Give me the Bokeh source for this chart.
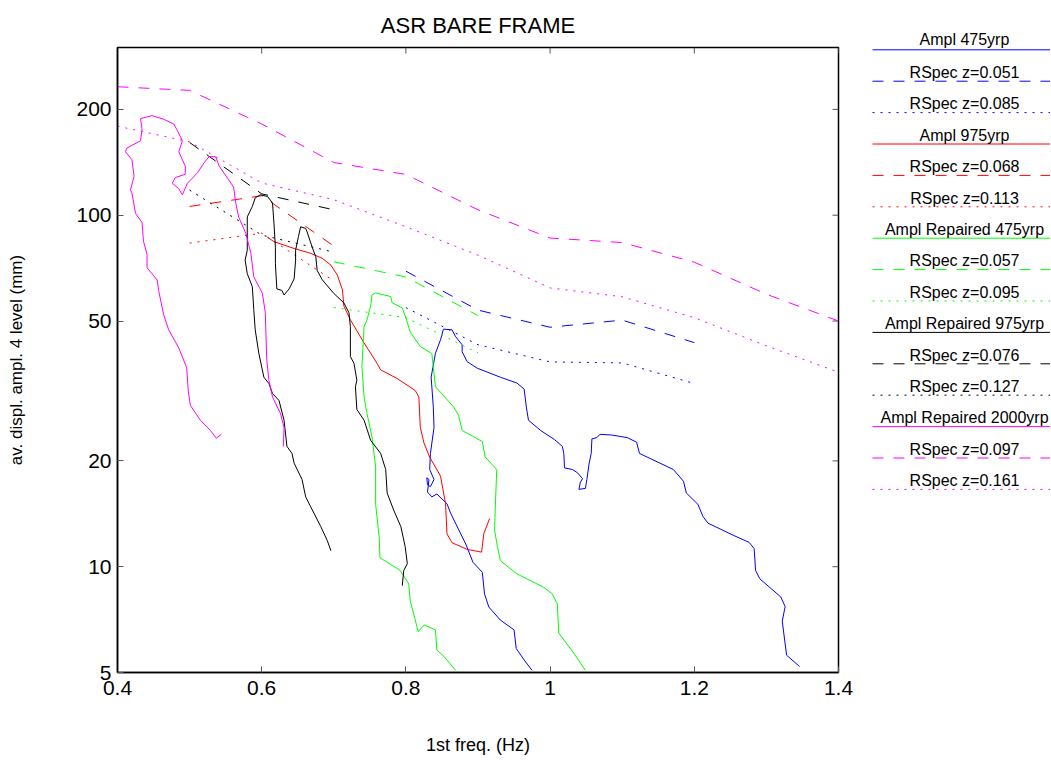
from bokeh.plotting import figure
from bokeh.models import Range1d, FixedTicker, CustomJSTickFormatter, Label
from bokeh.layouts import row
from bokeh.embed import file_html
from bokeh.resources import INLINE

FONT = "Liberation Sans"

# ---------------- data ----------------
x_ticks = [0.4, 0.6, 0.8, 1.0, 1.2, 1.4]
y_ticks = [5, 10, 20, 50, 100, 200]

# Ampl 475yrp (blue solid)
ampl475_f = [1.346, 1.328, 1.322, 1.326, 1.320, 1.291, 1.285, 1.283, 1.276, 1.255, 1.219, 1.212, 1.205, 1.189,
             1.185, 1.171, 1.124, 1.120, 1.107, 1.085, 1.069, 1.065, 1.058, 1.057, 1.054, 1.051, 1.049, 1.040,
             1.042, 1.045, 1.038, 1.031, 1.020, 1.019, 1.017, 1.006, 0.987, 0.970, 0.967, 0.964, 0.954, 0.931,
             0.899, 0.885, 0.878, 0.878, 0.869, 0.864, 0.852, 0.848, 0.841, 0.835, 0.838, 0.839, 0.834, 0.833,
             0.839, 0.834, 0.830, 0.829, 0.832, 0.830, 0.836, 0.843, 0.857, 0.862, 0.883, 0.893, 0.906, 0.909,
             0.915, 0.931, 0.950, 0.953, 0.964, 0.975]
ampl475_a = [5.2, 5.6, 7.0, 7.7, 8.2, 9.23, 9.75, 11.26, 11.73, 12.26, 13.3, 13.9, 15.05, 16.2,
             17.5, 18.9, 21.0, 22.6, 23.3, 23.7, 23.8, 23.3, 23.1, 21.0, 19.6, 17.7, 16.7, 16.6,
             17.4, 17.8, 18.5, 18.9, 19.1, 21.0, 22.0, 23.0, 24.4, 26.1, 28.5, 32.0, 33.3, 34.6,
             36.7, 38.3, 40.9, 42.8, 45.1, 47.2, 47.4, 44.2, 40.5, 34.6, 28.5, 24.9, 21.0, 18.9,
             17.7, 16.9, 17.1, 17.9, 17.7, 16.3, 15.8, 16.1, 15.1, 14.2, 11.6, 10.3, 9.64, 8.37,
             7.68, 7.05, 6.61, 5.85, 5.43, 5.07]

# Ampl 975yrp (red solid)
ampl975_f = [0.608, 0.617, 0.645, 0.668, 0.684, 0.696, 0.705, 0.712, 0.714, 0.723, 0.742, 0.760, 0.765, 0.788,
             0.813, 0.818, 0.820, 0.825, 0.833, 0.848, 0.855, 0.857, 0.864, 0.885, 0.905, 0.908, 0.916]
ampl975_a = [86.5, 84.1, 80.4, 77.9, 75.4, 72.1, 67.5, 61.3, 55.1, 50.4, 43.3, 37.9, 36.3, 34.3,
             31.7, 30.4, 24.9, 22.5, 20.5, 18.1, 15.1, 12.4, 11.7, 11.2, 11.0, 12.4, 13.7]

# Ampl Repaired 475yrp (green solid)
rep475_f = [0.869, 0.853, 0.843, 0.841, 0.825, 0.817, 0.813, 0.806, 0.804, 0.792, 0.764, 0.763, 0.758, 0.758,
            0.753, 0.746, 0.742, 0.739, 0.741, 0.742, 0.746, 0.751, 0.753, 0.758, 0.779, 0.781, 0.795, 0.801,
            0.806, 0.820, 0.836, 0.841, 0.852, 0.866, 0.873, 0.878, 0.906, 0.910, 0.926, 0.924, 0.923, 0.927,
            0.931, 0.954, 0.991, 1.003, 1.010, 1.012, 1.033, 1.049]
rep475_a = [5.07, 5.55, 5.79, 6.61, 6.83, 6.52, 7.05, 8.0, 8.93, 9.76, 10.6, 12.1, 15.05, 19.2,
            23.4, 27.3, 30.4, 37.1, 44.2, 48.2, 50.3, 55.1, 59.3, 60.1, 58.7, 56.3, 54.5, 50.3,
            46.5, 42.3, 40.4, 32.5, 30.7, 28.5, 27.0, 24.4, 22.7, 20.5, 18.9, 14.8, 12.7, 11.4,
            10.4, 9.54, 8.74, 8.37, 7.84, 6.47, 5.67, 5.07]

# Ampl Repaired 975yrp (black solid)
rep975_f = [0.696, 0.691, 0.682, 0.668, 0.661, 0.656, 0.645, 0.642, 0.635, 0.631, 0.624, 0.615, 0.610, 0.603,
            0.596, 0.591, 0.589, 0.587, 0.580, 0.577, 0.580, 0.580, 0.587, 0.591, 0.598, 0.608, 0.615, 0.617,
            0.619, 0.619, 0.621, 0.628, 0.631, 0.638, 0.645, 0.647, 0.647, 0.651, 0.654, 0.661, 0.663, 0.670,
            0.675, 0.677, 0.684, 0.700, 0.714, 0.721, 0.723, 0.723, 0.728, 0.732, 0.730, 0.732, 0.742, 0.751,
            0.765, 0.772, 0.774, 0.783, 0.793, 0.799, 0.802, 0.797, 0.795]
rep975_a = [11.1, 11.86, 13.0, 14.8, 15.8, 17.7, 19.7, 21.0, 22.0, 26.1, 29.7, 31.1, 33.2, 34.6,
            40.5, 47.2, 53.9, 62.6, 68.2, 74.5, 79.5, 98.9, 105.9, 112.0, 114.3, 113.1, 108.4, 94.8,
            81.1, 72.8, 61.7, 61.1, 59.3, 61.7, 65.9, 74.5, 79.5, 87.0, 92.7, 91.7, 89.6, 81.1,
            76.2, 69.6, 65.5, 59.9, 56.3, 52.8, 48.2, 39.6, 37.9, 33.9, 32.5, 28.0, 26.1, 22.9,
            21.0, 18.9, 16.2, 14.5, 13.0, 11.4, 10.2, 9.75, 8.83]

# Ampl Repaired 2000yrp (magenta solid)
rep2000_f = [0.544, 0.537, 0.529, 0.515, 0.501, 0.498, 0.496, 0.485, 0.471, 0.464, 0.457, 0.455, 0.441, 0.441,
             0.436, 0.434, 0.425, 0.420, 0.418, 0.423, 0.420, 0.411, 0.413, 0.432, 0.434, 0.432, 0.448, 0.464,
             0.478, 0.483, 0.490, 0.485, 0.494, 0.494, 0.480, 0.476, 0.485, 0.490, 0.497, 0.511, 0.520, 0.527,
             0.536, 0.541, 0.554, 0.561, 0.564, 0.568, 0.578, 0.585, 0.589, 0.601, 0.605, 0.607, 0.610, 0.615,
             0.626, 0.631, 0.630]
rep2000_a = [23.8, 23.2, 24.4, 26.1, 28.8, 31.8, 36.8, 41.9, 47.2, 52.1, 61.1, 65.4, 70.9, 77.3,
             84.4, 95.4, 101.2, 115.8, 118.1, 129.1, 143.8, 151.5, 155.3, 162.8, 176.1, 188.3, 192.0, 187.5,
             181.8, 174.2, 162.8, 151.5, 137.9, 130.8, 127.9, 123.3, 118.9, 114.3, 123.3, 132.1, 140.9, 146.7,
             146.7, 137.9, 126.2, 120.3, 108.4, 98.9, 88.7, 77.9, 66.8, 59.9, 52.8, 38.8, 33.9, 30.4,
             27.3, 24.9, 22.0]

# response-spectrum estimates
rs051_f = [0.8, 0.9, 1.0, 1.1, 1.2]
rs051_a = [69.3, 53.7, 48.0, 50.3, 43.4]
rs085_f = [0.8, 0.9, 1.0, 1.1, 1.2]
rs085_a = [54.6, 42.8, 38.25, 38.0, 33.2]
rs068_f = [0.5, 0.6, 0.7]
rs068_a = [105.9, 113.6, 81.7]
rs113_f = [0.5, 0.6, 0.7]
rs113_a = [83.3, 88.9, 65.0]
rs057_f = [0.7, 0.8, 0.9]
rs057_a = [73.7, 66.7, 51.8]
rs095_f = [0.7, 0.8, 0.9]
rs095_a = [54.6, 51.1, 40.6]
rs076_f = [0.5, 0.6, 0.7]
rs076_a = [161.0, 115.0, 103.6]
rs127_f = [0.5, 0.6, 0.7]
rs127_a = [117.9, 87.8, 78.5]
rs097_f = [0.4, 0.5, 0.6, 0.7, 0.8, 0.9, 1.0, 1.1, 1.2, 1.3, 1.4]
rs097_a = [232.0, 226.5, 181.8, 141.2, 130.6, 103.6, 86.1, 83.6, 73.5, 59.6, 50.0]
rs161_f = [0.4, 0.5, 0.6, 0.7, 0.8, 0.9, 1.0, 1.1, 1.2, 1.3, 1.4]
rs161_a = [179.2, 161.7, 123.5, 110.7, 92.7, 77.0, 62.1, 58.6, 51.1, 42.5, 35.75]

legend_labels = ["Ampl 475yrp", "RSpec z=0.051", "RSpec z=0.085",
                 "Ampl 975yrp", "RSpec z=0.068", "RSpec z=0.113",
                 "Ampl Repaired 475yrp", "RSpec z=0.057", "RSpec z=0.095",
                 "Ampl Repaired 975yrp", "RSpec z=0.076", "RSpec z=0.127",
                 "Ampl Repaired 2000yrp", "RSpec z=0.097", "RSpec z=0.161"]

# ---------------- styles ----------------
BLUE, RED, GREEN, BLACK, MAG = "#0000ff", "#ff0000", "#00ff00", "#000000", "#ff00ff"
SOLID, DASH, DOT = "solid", "11 10", "2 6"

series = [
    (ampl475_f, ampl475_a, BLUE, SOLID), (rs051_f, rs051_a, BLUE, DASH), (rs085_f, rs085_a, BLUE, DOT),
    (ampl975_f, ampl975_a, RED, SOLID), (rs068_f, rs068_a, RED, DASH), (rs113_f, rs113_a, RED, DOT),
    (rep475_f, rep475_a, GREEN, SOLID), (rs057_f, rs057_a, GREEN, DASH), (rs095_f, rs095_a, GREEN, DOT),
    (rep975_f, rep975_a, BLACK, SOLID), (rs076_f, rs076_a, BLACK, DASH), (rs127_f, rs127_a, BLACK, DOT),
    (rep2000_f, rep2000_a, MAG, SOLID), (rs097_f, rs097_a, MAG, DASH), (rs161_f, rs161_a, MAG, DOT),
]

# ---------------- main figure ----------------
X0, X1, Y0, Y1 = 0.4, 1.4, 5, 300
FRAME_W, FRAME_H = 721, 625
H = 760
TOP, BOTTOM = 47, 88
p = figure(width=863, height=H, x_range=Range1d(X0, X1), y_range=Range1d(Y0, Y1),
           y_axis_type="log", output_backend="svg", toolbar_location=None,
           min_border_left=117, min_border_right=25, min_border_top=TOP, min_border_bottom=BOTTOM,
           title="ASR BARE FRAME")
p.title.align = "center"
p.title.text_font = FONT
p.title.text_font_size = "22px"
p.title.text_font_style = "normal"
p.title.text_color = "black"
p.title.standoff = 20
p.xgrid.visible = False
p.ygrid.visible = False
p.outline_line_color = "black"
p.outline_line_width = 1.5
p.background_fill_color = "white"
p.border_fill_color = "white"

xax = p.below[0]
yax = p.left[0]
xax.ticker = FixedTicker(ticks=x_ticks, minor_ticks=[])
yax.ticker = FixedTicker(ticks=y_ticks, minor_ticks=[])
for ax in (xax, yax):
    ax.formatter = CustomJSTickFormatter(code="return tick.toString();")
    ax.major_tick_in = 6
    ax.major_tick_out = 0
    ax.minor_tick_in = 0
    ax.minor_tick_out = 0
    ax.major_tick_line_color = "#555555"
    ax.axis_line_color = "black"
    ax.axis_line_width = 1.5
    ax.major_label_text_font = FONT
    ax.major_label_text_font_size = "21px"
    ax.major_label_text_color = "black"
    ax.axis_label_text_font = FONT
    ax.axis_label_text_font_style = "normal"
    ax.axis_label_text_color = "black"

xax.axis_label = "1st freq. (Hz)"
xax.axis_label_text_font_size = "18px"
xax.major_label_standoff = 8
xax.axis_label_standoff = 37
yax.axis_label = "av. displ. ampl. 4 level (mm)"
yax.axis_label_text_font_size = "17px"
yax.major_label_standoff = 6
yax.axis_label_standoff = 47

# inward ticks on the top and right edges of the box (6 px long)
tick_dx = 6 * (X1 - X0) / FRAME_W
tick_fy = 10 ** (6 * (2.4771 - 0.69897) / FRAME_H)
p.segment(x0=x_ticks, y0=[Y1] * len(x_ticks), x1=x_ticks, y1=[Y1 / tick_fy] * len(x_ticks),
          line_color="#555555", line_width=1)
p.segment(x0=[X1] * len(y_ticks), y0=y_ticks, x1=[X1 - tick_dx] * len(y_ticks), y1=y_ticks,
          line_color="#555555", line_width=1)

for fx, fy, col, dash in series:
    p.line(fx, fy, line_color=col, line_width=1, line_dash=dash)

# ---------------- legend panel (pixel-like coordinates: y = page row) ----------------
LW = 187
lg = figure(width=LW, height=H, x_range=Range1d(0, LW), y_range=Range1d(H - BOTTOM, TOP),
            output_backend="svg", toolbar_location=None,
            min_border_left=0, min_border_right=0, min_border_top=TOP, min_border_bottom=BOTTOM,
            x_axis_location=None, y_axis_location=None)
lg.xgrid.visible = False
lg.ygrid.visible = False
lg.outline_line_color = None
lg.background_fill_color = "white"
lg.border_fill_color = "white"

# the first entry's text sits above the panel's frame, so it is drawn as the panel title
lg.title.text = legend_labels[0]
lg.title.align = "left"
lg.title.offset = 56
lg.title.standoff = 0
lg.title.text_font = FONT
lg.title.text_font_size = "16px"
lg.title.text_font_style = "normal"
lg.title.text_color = "black"

for i, (lab, (fx, fy, col, dash)) in enumerate(zip(legend_labels, series)):
    yl = 49.3 + 31.4 * i
    lg.line([9, LW], [yl, yl], line_color=col, line_width=1, line_dash=dash)
    if i > 0:
        lg.add_layout(Label(x=101, y=yl - 8.8, text=lab, text_align="center", text_baseline="middle",
                            text_font=FONT, text_font_size="16px", text_color="black"))

layout = row(p, lg)
open("out.html", "w").write(file_html(layout, INLINE))
